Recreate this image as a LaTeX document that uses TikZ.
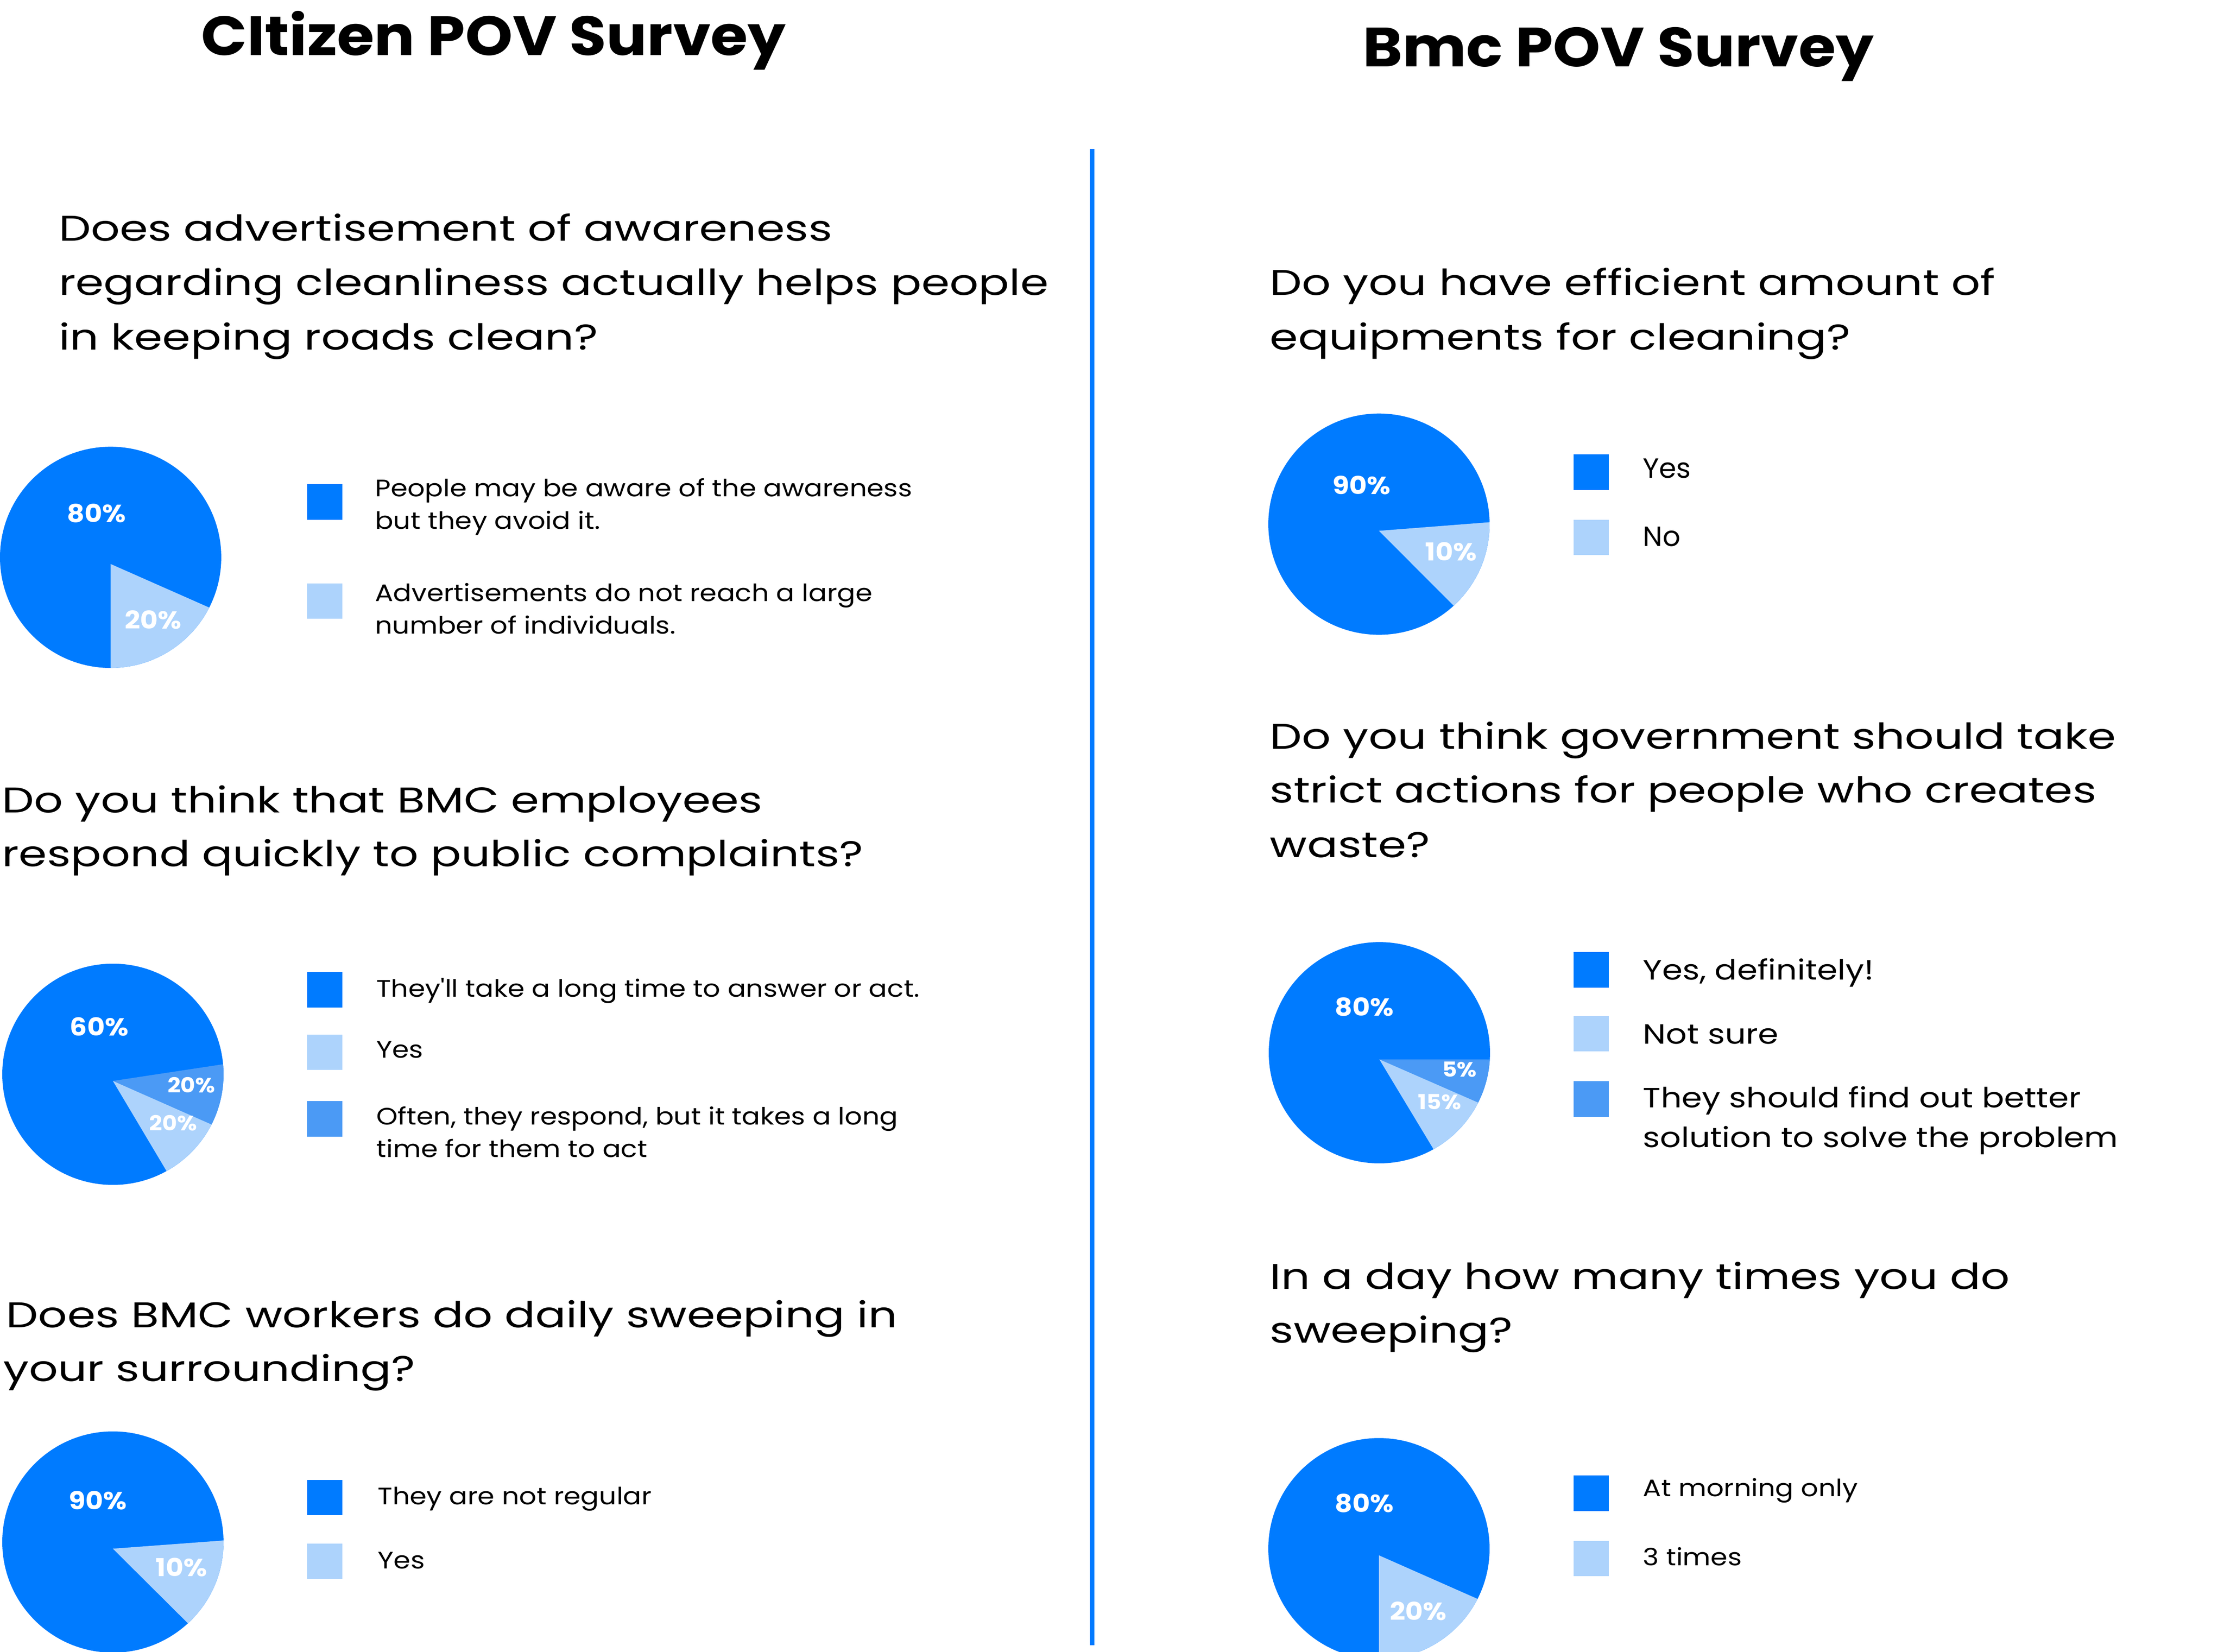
\documentclass[tikz,border=0pt]{standalone}
\usepackage{fontspec}
\setmainfont{Poppins}
\newfontfamily\qfont[FakeStretch=1.27]{Poppins}
\newfontfamily\lfont[FakeStretch=1.14]{Poppins}
\newfontfamily\lbfont[FakeStretch=1.18]{Poppins}
\newfontfamily\tfont[FakeStretch=1.09]{Poppins}
\newfontfamily\pfont[FakeStretch=1.1]{Poppins}
\usetikzlibrary{calc}
\definecolor{pdark}{HTML}{007BFF}
\definecolor{plight}{HTML}{ADD3FC}
\definecolor{pmed}{HTML}{4B9AF5}
\begin{document}
\begin{tikzpicture}[x=0.5pt,y=-0.5pt,
  ttl/.style={anchor=base, inner sep=0, font=\tfont\fontsize{19.5}{23}\selectfont\bfseries},
  qtxt/.style={anchor=base west, inner sep=0, font=\qfont\fontsize{12.6}{15}\selectfont},
  lgtxt/.style={anchor=base west, inner sep=0, font=\lfont\fontsize{8.4}{10}\selectfont},
  lgbig/.style={anchor=base west, inner sep=0, font=\lbfont\fontsize{9.8}{12}\selectfont},
  lgyn/.style={anchor=base west, inner sep=0, font=\fontsize{9.8}{12}\selectfont},
  pct/.style={inner sep=0, text=white, font=\pfont\fontsize{8.7}{10}\selectfont\bfseries},
  pcts/.style={inner sep=0, text=white, font=\pfont\fontsize{7.3}{8}\selectfont\bfseries},
  sq/.style={minimum size=12.5pt, inner sep=0, anchor=north west}
]
\useasboundingbox (0,0) rectangle (1568,1164.6);

% titles
\node[ttl] (t1) at (348,39) {CItizen POV Survey};
\node[ttl] (t2) at (1141,47) {Bmc POV Survey};

% divider
\coordinate (dtop) at (770,105);
\coordinate (dbot) at (770,1160);
\draw[pdark, line width=1.5pt] (dtop) -- (dbot);

% ---------- Q1 ----------
\node[qtxt] (q1a) at (41,170) {Does advertisement of awareness};
\node[qtxt] (q1b) at (41,208) {regarding cleanliness actually helps people};
\node[qtxt] (q1c) at (41,246.5) {in keeping roads clean?};
\fill[pdark] (78,393) circle[radius=78];
\fill[plight] (78,397.7) -- ($(78,393)+(90:78)$) arc[start angle=90, end angle=27, radius=78] -- cycle;
\node[pct] (p1a) at (68,362) {80\%};
\node[pct] (p1b) at (108,437) {20\%};
\node[sq, fill=pdark] (s1a) at (216,341) {};
\node[sq, fill=plight] (s1b) at (216,411) {};
\node[lgtxt] (l1a) at (264,350) {People may be aware of the awareness};
\node[lgtxt] (l1b) at (264,373) {but they avoid it.};
\node[lgtxt] (l1c) at (264,424) {Advertisements do not reach a large};
\node[lgtxt] (l1d) at (264,447) {number of individuals.};

% ---------- Q2 ----------
\node[qtxt] (q2a) at (1,573) {Do you think that BMC employees};
\node[qtxt] (q2b) at (1,611) {respond quickly to public complaints?};
\fill[pdark] (79.6,757.5) circle[radius=78];
\fill[pmed] (79.6,762.2) -- ($(79.6,757.5)+(-5.2:78)$) arc[start angle=-5.2, end angle=27, radius=78] -- cycle;
\fill[plight] (79.6,762.2) -- ($(79.6,757.5)+(27:78)$) arc[start angle=27, end angle=61, radius=78] -- cycle;
\node[pct] (p2a) at (70,724) {60\%};
\node[pcts] (p2b) at (135,765) {20\%};
\node[pcts] (p2c) at (122,792) {20\%};
\node[sq, fill=pdark] (s2a) at (216,685) {};
\node[sq, fill=plight] (s2b) at (216,729) {};
\node[sq, fill=pmed] (s2c) at (216,776) {};
\node[lgtxt] (l2a) at (265,703) {They'll take a long time to answer or act.};
\node[lgtxt] (l2b) at (265,746) {Yes};
\node[lgtxt] (l2c) at (265,793) {Often, they respond, but it takes a long};
\node[lgtxt] (l2d) at (265,816) {time for them to act};

% ---------- Q3 ----------
\node[qtxt] (q3a) at (4,936) {Does BMC workers do daily sweeping in};
\node[qtxt] (q3b) at (2,974) {your surrounding?};
\fill[pdark] (79.6,1087.3) circle[radius=78];
\fill[plight] (79.6,1092) -- ($(79.6,1087.3)+(-0.8:78)$) arc[start angle=-0.8, end angle=47.3, radius=78] -- cycle;
\node[pct] (p3a) at (69,1058) {90\%};
\node[pct] (p3b) at (128,1105) {10\%};
\node[sq, fill=pdark] (s3a) at (216,1043) {};
\node[sq, fill=plight] (s3b) at (216,1088) {};
\node[lgtxt] (l3a) at (266,1061) {They are not regular};
\node[lgtxt] (l3b) at (266,1106) {Yes};

% ---------- Q4 ----------
\node[qtxt] (q4a) at (895,208) {Do you have efficient amount of};
\node[qtxt] (q4b) at (895,246.5) {equipments for cleaning?};
\fill[pdark] (972.2,369.6) circle[radius=78];
\fill[plight] (972.2,374.3) -- ($(972.2,369.6)+(-1:78)$) arc[start angle=-1, end angle=47.5, radius=78] -- cycle;
\node[pct] (p4a) at (960,342) {90\%};
\node[pct] (p4b) at (1023,389) {10\%};
\node[sq, fill=pdark] (s4a) at (1109,320) {};
\node[sq, fill=plight] (s4b) at (1109,366) {};
\node[lgyn] (l4a) at (1158,337) {Yes};
\node[lgyn] (l4b) at (1158,385) {No};

% ---------- Q5 ----------
\node[qtxt] (q5a) at (895,528) {Do you think government should take};
\node[qtxt] (q5b) at (895,566) {strict actions for people who creates};
\node[qtxt] (q5c) at (895,604.5) {waste?};
\fill[pdark] (972.5,742.3) circle[radius=78];
\fill[pmed] (972.5,747) -- ($(972.5,742.3)+(3.5:78)$) arc[start angle=3.5, end angle=26.8, radius=78] -- cycle;
\fill[plight] (972.5,747) -- ($(972.5,742.3)+(26.8:78)$) arc[start angle=26.8, end angle=60.7, radius=78] -- cycle;
\node[pct] (p5a) at (962,710) {80\%};
\node[pcts] (p5b) at (1029,754) {5\%};
\node[pcts] (p5c) at (1015,777) {15\%};
\node[sq, fill=pdark] (s5a) at (1109,671) {};
\node[sq, fill=plight] (s5b) at (1109,716) {};
\node[sq, fill=pmed] (s5c) at (1109,762) {};
\node[lgbig] (l5a) at (1158,691) {Yes, definitely!};
\node[lgbig] (l5b) at (1158,736) {Not sure};
\node[lgbig] (l5c) at (1158,781) {They should find out better};
\node[lgbig] (l5d) at (1158,809) {solution to solve the problem};

% ---------- Q6 ----------
\node[qtxt] (q6a) at (895,909) {In a day how many times you do};
\node[qtxt] (q6b) at (895,947) {sweeping?};
\fill[pdark] (972.2,1092) circle[radius=78];
\fill[plight] (972.2,1096.7) -- ($(972.2,1092)+(90:78)$) arc[start angle=90, end angle=27, radius=78] -- cycle;
\node[pct] (p6a) at (962,1060) {80\%};
\node[pct] (p6b) at (1000,1136) {20\%};
\node[sq, fill=pdark] (s6a) at (1109,1040) {};
\node[sq, fill=plight] (s6b) at (1109,1086) {};
\node[lgtxt] (l6a) at (1158,1055) {At morning only};
\node[lgtxt] (l6b) at (1158,1104) {3 times};
\end{tikzpicture}
\end{document}
